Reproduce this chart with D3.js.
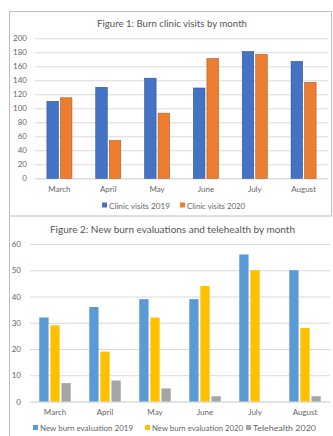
<!DOCTYPE html>
<html><head><meta charset="utf-8">
<script src="https://cdn.jsdelivr.net/npm/d3@7"></script>
<style>
html,body{margin:0;padding:0;background:#fff;}
svg{display:block;font-family:Lato,"Open Sans",sans-serif;}
</style></head>
<body>
<svg id="c" width="333" height="436"></svg>
<script>
const months = ["March","April","May","June","July","August"];
const clinic2019 = [110,130,143,129,181,167];
const clinic2020 = [115,54,93,171,177,137];
const yTicks1 = [0,20,40,60,80,100,120,140,160,180,200];
const newEval2019 = [32,36,39,39,56,50];
const newEval2020 = [29,19,32,44,50,28];
const tele2020 = [7,8,5,2,0,2];
const yTicks2 = [0,10,20,30,40,50,60];

const svg = d3.select("#c");
const txt = "#666666", grid = "#d9d9d9";

// borders
svg.append("rect").attr("x",9.5).attr("y",11.5).attr("width",322).attr("height",204.5)
  .attr("fill","none").attr("stroke","#bfbfbf");
svg.append("path").attr("d","M9.5,216.5V436").attr("stroke","#bfbfbf").attr("fill","none");

function chart(cfg){
  const g = svg.append("g");
  const x = d3.scaleBand().domain(months).range([cfg.x0,cfg.x1]);
  const y = d3.scaleLinear().domain([0,cfg.max]).range([cfg.y0,cfg.yTop]);
  g.append("text").attr("x",cfg.titleX).attr("y",cfg.titleY)
    .attr("font-size",10).attr("fill","#555555")
    .attr("textLength",cfg.titleW).attr("lengthAdjust","spacingAndGlyphs").text(cfg.title);
  const ya = d3.axisLeft(y).tickValues(cfg.ticks).tickSize(-(cfg.x1-cfg.x0)).tickPadding(cfg.tickPad);
  const ag = g.append("g").attr("transform",`translate(${cfg.x0},0)`).call(ya);
  ag.select(".domain").remove();
  ag.selectAll("line").attr("stroke",grid);
  ag.selectAll("text").attr("font-size",8).attr("fill",txt).attr("font-family","Lato,'Open Sans',sans-serif");
  const xa = d3.axisBottom(x).tickSize(0).tickPadding(cfg.xPad);
  const xg = g.append("g").attr("transform",`translate(0,${cfg.y0})`).call(xa);
  xg.select(".domain").attr("stroke",grid);
  xg.selectAll("text").attr("font-size",8).attr("fill",txt).attr("font-family","Lato,'Open Sans',sans-serif");
  const n = cfg.series.length;
  const bw = cfg.bw, gap = cfg.gap;
  const gw = n*bw+(n-1)*gap;
  cfg.series.forEach((s,i)=>{
    g.append("g").selectAll("rect").data(s.values).join("rect")
      .attr("x",(d,j)=>x(months[j])+x.bandwidth()/2-gw/2+i*(bw+gap))
      .attr("y",d=>y(d)).attr("width",bw).attr("height",d=>cfg.y0-y(d))
      .attr("fill",s.color).attr("stroke",s.stroke||"none").attr("stroke-width",0.6);
  });
  // legend
  const lg = g.append("g");
  cfg.series.forEach((s,i)=>{
    lg.append("rect").attr("x",cfg.legX[i]).attr("y",cfg.legY-3.5).attr("width",5).attr("height",5).attr("fill",s.color);
    lg.append("text").attr("x",cfg.legX[i]+7).attr("y",cfg.legY).attr("dy","0.35em")
      .attr("font-size",8).attr("fill",txt)
      .attr("textLength",cfg.legW[i]).attr("lengthAdjust","spacingAndGlyphs").text(s.name);
  });
}

chart({
  x0:35,x1:328,y0:178.3,yTop:38.3,max:200,ticks:yTicks1,tickPad:8,xPad:8,
  title:"Figure 1: Burn clinic visits by month",titleX:97,titleW:150,titleY:26.5,
  bw:11.5,gap:2,legY:206,legX:[102,180],legW:[61,58],
  series:[
    {name:"Clinic visits 2019",values:clinic2019,color:"#4472C4",stroke:"#2F528F"},
    {name:"Clinic visits 2020",values:clinic2020,color:"#ED7D31",stroke:"#AE5A21"}
  ]
});
chart({
  x0:30,x1:330,y0:401.5,yTop:244,max:60,ticks:yTicks2,tickPad:9,xPad:8,
  title:"Figure 2:  New burn evaluations and telehealth by  month",titleX:50,titleW:245,titleY:232.5,
  bw:9.3,gap:1.8,legY:428.5,legX:[33,145,246],legW:[93,91,63],
  series:[
    {name:"New burn evaluation 2019",values:newEval2019,color:"#5B9BD5"},
    {name:"New burn evaluation 2020",values:newEval2020,color:"#FFC000"},
    {name:"Telehealth 2020",values:tele2020,color:"#A5A5A5"}
  ]
});
</script>
</body></html>
